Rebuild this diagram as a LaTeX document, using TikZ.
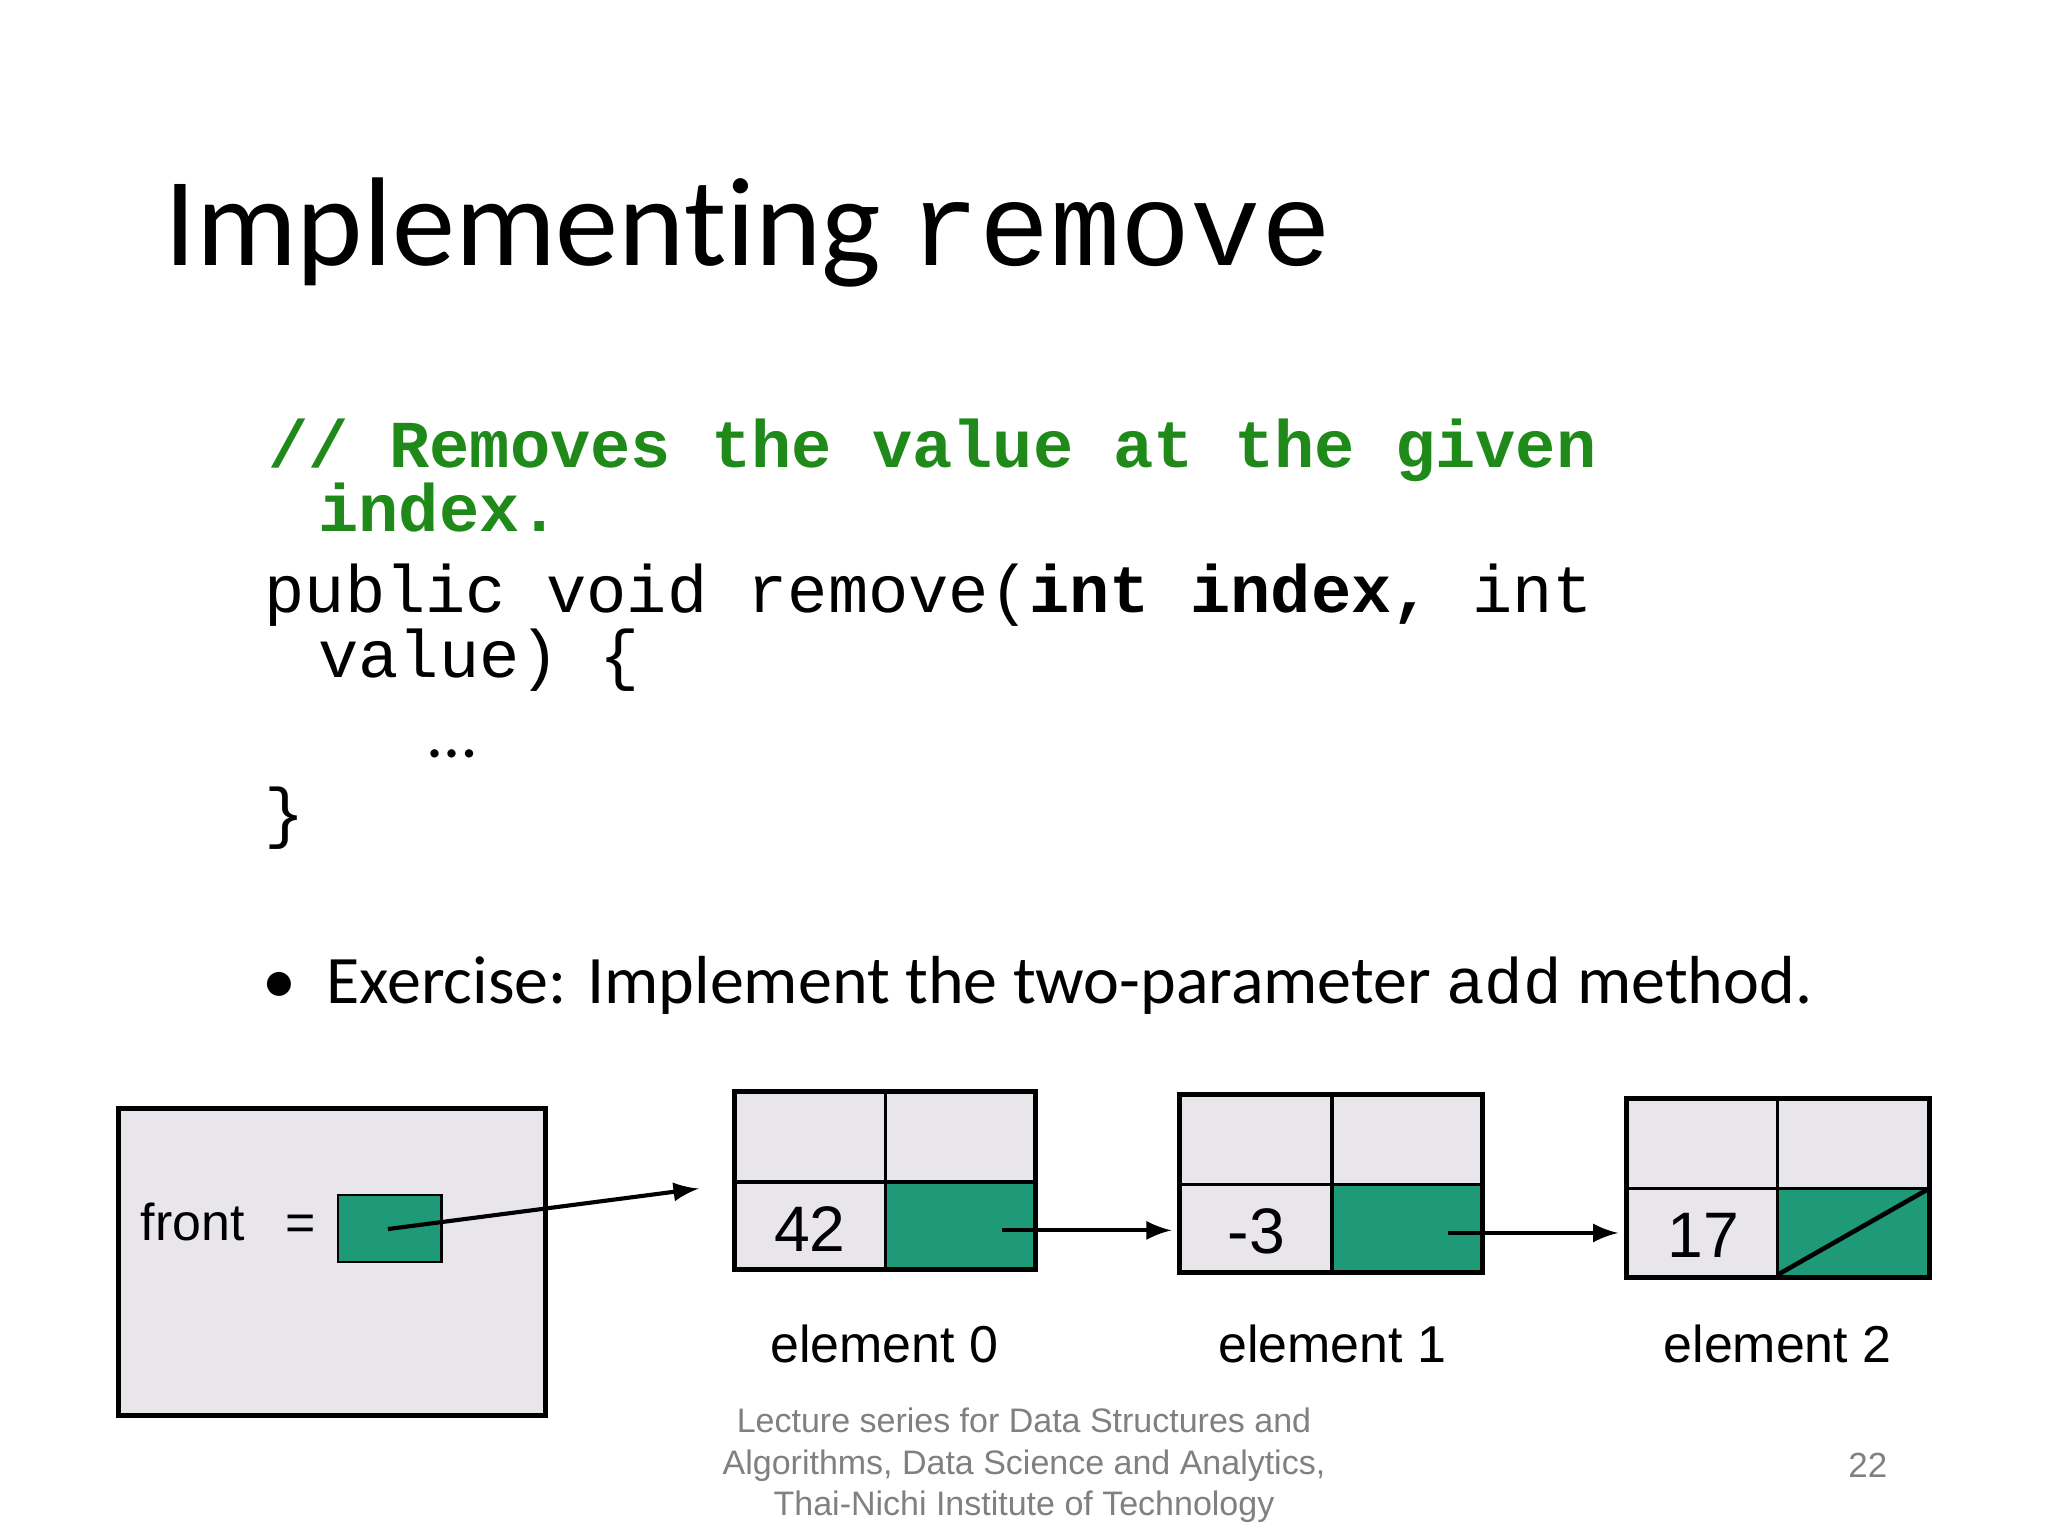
\documentclass[tikz,border=0pt]{standalone}
\usepackage{fontspec}
\setmainfont[Ligatures=NoCommon]{Carlito}
\newfontfamily\cour{Liberation Mono}
\newfontfamily\arial{Liberation Sans}
\definecolor{cgreen}{HTML}{1F8A1A}
\definecolor{cellgray}{HTML}{E8E6EA}
\definecolor{nodegreen}{HTML}{1F9A78}
\begin{document}
\begin{tikzpicture}[x=0.01cm,y=-0.01cm,
  box/.style={draw=black,line width=1.1pt,fill=cellgray},
  gcell/.style={draw=black,line width=0.8pt,fill=nodegreen},
  code/.style={anchor=base west,inner sep=0pt,font=\cour\fontsize{14.6}{15}\selectfont},
  lab/.style={font=\arial\fontsize{11.3}{12}\selectfont},
  num/.style={font=\arial\fontsize{14}{14}\selectfont},
  arr/.style={-latex,line width=0.9pt}]
\useasboundingbox (0,0) rectangle (1568,1176);
\node[anchor=base west,inner sep=0pt,font=\fontsize{27.5}{29}\selectfont] (title) at (125,203) {Implementing {\cour\fontsize{25.5}{29}\selectfont remove}};
\node[code,text=cgreen] (c1) at (205,358) {\bfseries // Removes the value at the given};
\node[code,text=cgreen] (c2) at (243,407) {\bfseries index.};
\node[code] (c3) at (202,469) {public void remove(\textbf{int index,} int};
\node[code] (c4) at (243,519) {value) \{};
\node[anchor=base west,inner sep=0pt,font=\fontsize{15}{15}\selectfont] (c5) at (327,580) {\ldots};
\node[code] (c6) at (202,640) {\}};
\node[anchor=base west,inner sep=0pt,font=\fontsize{14.8}{15}\selectfont] (bul) at (200,768) {\textbullet\hspace{0.45em}Exercise: Implement the two-parameter {\cour\fontsize{14}{15}\selectfont add} method.};
% front box
\draw[box] (91,849) rectangle (418,1084);
\node[lab,anchor=base west,inner sep=0pt] (front) at (107,950) {front};
\node[lab,anchor=base west,inner sep=0pt] (eq) at (218,950) {=};
\draw[gcell,line width=0.5pt] (259,915) rectangle (338,966);
\coordinate (fs) at (297,941);
% element 0
\draw[box] (562,836) rectangle (793,972);
\draw[gcell,draw=none] (678,905) rectangle (793,972);
\draw[line width=0.8pt] (678,836) -- (678,972) (562,905) -- (793,905);
\draw[line width=1.1pt] (562,836) rectangle (793,972);
\node[num] (v0) at (620,941) {42};
\coordinate (p0) at (767,942);
% element 1
\draw[box] (903,838) rectangle (1135,974);
\draw[gcell,draw=none] (1020,907) rectangle (1135,974);
\draw[line width=0.8pt] (1020,838) -- (1020,974) (903,907) -- (1135,907);
\draw[line width=1.1pt] (903,838) rectangle (1135,974);
\node[num] (v1) at (962,943) {-3};
\coordinate (p1) at (1109,944);
% element 2
\draw[box] (1245,841) rectangle (1477,978);
\draw[gcell,draw=none] (1361,910) rectangle (1477,978);
\draw[line width=0.8pt] (1361,841) -- (1361,978) (1245,910) -- (1477,910);
\draw[line width=1.1pt] (1245,841) rectangle (1477,978);
\draw[line width=1pt] (1361,976) -- (1477,910);
\node[num] (v2) at (1304,946) {17};
% arrows
\coordinate (t0) at (535,910);
\coordinate (t1) at (897,942);
\coordinate (t2) at (1239,944);
\draw[arr] (fs) -- (t0);
\draw[arr] (p0) -- (t1);
\draw[arr] (p1) -- (t2);
\node[lab] (e0) at (677,1029) {element 0};
\node[lab] (e1) at (1020,1029) {element 1};
\node[lab] (e2) at (1361,1029) {element 2};
\node[font=\arial\fontsize{7.4}{9}\selectfont,text=gray,align=center] (foot) at (784,1122) {Lecture series for Data Structures and\\Algorithms, Data Science and Analytics,\\Thai-Nichi Institute of Technology};
\node[font=\arial\fontsize{7.6}{9}\selectfont,text=gray] (pg) at (1430,1122) {22};
\end{tikzpicture}
\end{document}
